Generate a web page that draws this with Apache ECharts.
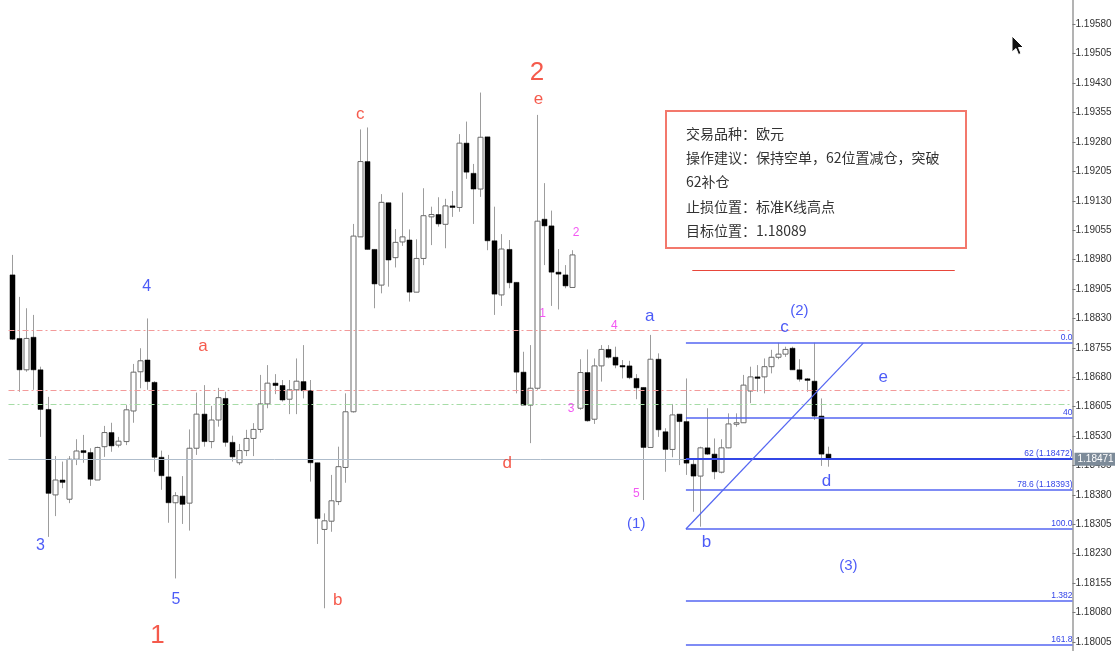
<!DOCTYPE html>
<html><head><meta charset="utf-8">
<script src="https://cdn.jsdelivr.net/npm/echarts@6/dist/echarts.min.js"></script>
<style>html,body{margin:0;padding:0;background:#fff}#main{width:1115px;height:651px}</style>
</head><body><div id="main"></div>
<script>
// ---- Candle data (EUR/USD) ----
const opens=[1.18941,1.18779,1.18699,1.18782,1.18699,1.18598,1.18380,1.18418,1.18369,1.18471,
1.18493,1.18488,1.18418,1.18503,1.18539,1.18507,1.18516,1.18594,1.18694,1.18724,
1.18667,1.18476,1.18426,1.18360,1.18377,1.18359,1.18499,1.18586,1.18516,1.18571,
1.18626,1.18514,1.18462,1.18493,1.18524,1.18547,1.18612,1.18665,1.18659,1.18624,
1.18648,1.18669,1.18646,1.18462,1.18292,1.18313,1.18363,1.18450,1.18592,1.19038,
1.19230,1.19006,1.18915,1.19125,1.18985,1.19025,1.19030,1.18897,1.18983,1.19089,
1.19095,1.19070,1.19117,1.19113,1.19277,1.19200,1.19160,1.19293,1.19028,1.18890,
1.19006,1.18922,1.18693,1.18609,1.18652,1.19083,1.19066,1.18948,1.18941,1.18909,
1.18601,1.18692,1.18573,1.18709,1.18751,1.18731,1.18710,1.18709,1.18677,1.18654,
1.18501,1.18726,1.18541,1.18496,1.18586,1.18567,1.18458,1.18428,1.18500,1.18484,
1.18438,1.18500,1.18561,1.18564,1.18645,1.18681,1.18681,1.18707,1.18731,1.18739,
1.18754,1.18699,1.18676,1.18670,1.18581,1.18484];
const closes=[1.18777,1.18699,1.18779,1.18699,1.18598,1.18384,1.18418,1.18412,1.18471,1.18492,
1.18488,1.18420,1.18501,1.18539,1.18505,1.18517,1.18597,1.18693,1.18722,1.18669,
1.18476,1.18429,1.18360,1.18378,1.18356,1.18499,1.18586,1.18516,1.18571,1.18628,
1.18514,1.18477,1.18493,1.18524,1.18547,1.18612,1.18665,1.18659,1.18622,1.18648,
1.18670,1.18646,1.18462,1.18320,1.18314,1.18365,1.18452,1.18592,1.19040,1.19230,
1.19006,1.18918,1.19126,1.18979,1.19024,1.19038,1.18897,1.18983,1.19092,1.19095,
1.19071,1.19117,1.19113,1.19277,1.19203,1.19160,1.19292,1.19028,1.18892,1.19007,
1.18921,1.18693,1.18609,1.18652,1.19078,1.19066,1.18948,1.18943,1.18913,1.18992,
1.18692,1.18569,1.18709,1.18751,1.18731,1.18711,1.18708,1.18679,1.18653,1.18501,
1.18726,1.18546,1.18496,1.18584,1.18567,1.18461,1.18428,1.18500,1.18484,1.18439,
1.18500,1.18561,1.18564,1.18660,1.18681,1.18678,1.18707,1.18731,1.18739,1.18751,
1.18699,1.18675,1.18672,1.18581,1.18484,1.18471];
const lows=[1.18775,1.18643,1.18694,1.18648,1.18528,1.18273,1.18326,1.18397,1.18359,1.18456,
1.18462,1.18403,1.18418,1.18477,1.18490,1.18501,1.18507,1.18564,1.18652,1.18648,
1.18439,1.18393,1.18309,1.18167,1.18306,1.18289,1.18482,1.18503,1.18499,1.18554,
1.18503,1.18465,1.18456,1.18479,1.18479,1.18539,1.18601,1.18637,1.18618,1.18586,
1.18586,1.18626,1.18414,1.18255,1.18091,1.18286,1.18354,1.18411,1.18590,1.19038,
1.19006,1.18856,1.18894,1.18911,1.18960,1.19015,1.18873,1.18897,1.18966,1.19017,
1.19064,1.19009,1.19089,1.19102,1.19186,1.19071,1.19140,1.19004,1.18839,1.18862,
1.18907,1.18639,1.18609,1.18512,1.18648,1.18966,1.18862,1.18853,1.18907,1.18909,
1.18597,1.18567,1.18561,1.18669,1.18728,1.18703,1.18677,1.18675,1.18624,1.18367,
1.18501,1.18528,1.18439,1.18476,1.18456,1.18431,1.18337,1.18299,1.18482,1.18420,
1.18435,1.18499,1.18554,1.18564,1.18614,1.18643,1.18639,1.18690,1.18726,1.18732,
1.18699,1.18669,1.18643,1.18571,1.18454,1.18452];
const highs=[1.18992,1.18885,1.18856,1.18839,1.18707,1.18630,1.18479,1.18465,1.18479,1.18522,
1.18533,1.18499,1.18503,1.18556,1.18564,1.18528,1.18609,1.18714,1.18754,1.18830,
1.18670,1.18493,1.18482,1.18387,1.18428,1.18547,1.18641,1.18660,1.18607,1.18653,
1.18643,1.18531,1.18510,1.18546,1.18563,1.18686,1.18711,1.18688,1.18673,1.18673,
1.18728,1.18762,1.18673,1.18462,1.18333,1.18431,1.18503,1.18639,1.19071,1.19312,
1.19317,1.19006,1.19147,1.19125,1.19058,1.19151,1.19057,1.19032,1.19162,1.19115,
1.19139,1.19135,1.19155,1.19300,1.19332,1.19224,1.19406,1.19293,1.19115,1.19045,
1.19030,1.18922,1.18745,1.18762,1.19349,1.19175,1.19105,1.19007,1.18966,1.19004,
1.18726,1.18751,1.18728,1.18762,1.18762,1.18758,1.18724,1.18722,1.18688,1.18654,
1.18788,1.18741,1.18550,1.18612,1.18586,1.18677,1.18469,1.18503,1.18601,1.18524,
1.18522,1.18588,1.18588,1.18686,1.18707,1.18711,1.18728,1.18750,1.18768,1.18758,
1.18758,1.18726,1.18678,1.18768,1.18626,1.18503];
const slotCount=150; // 116 bars + empty space on the right
const categories=Array.from({length:slotCount},(_,i)=>'K'+(i+1));
const yTicks=[1.18005,1.18080,1.18155,1.18230,1.18305,1.18380,1.18455,1.18530,1.18605,1.18680,1.18755,
1.18830,1.18905,1.18980,1.19055,1.19130,1.19205,1.19280,1.19355,1.19430,1.19505,1.19580];
const lastPrice=1.18471;
// horizontal reference levels
const redLevels=[1.18800,1.18646];
const greenLevels=[1.18611];
// Fibonacci levels
const fibLabels=['0.0','40','62 (1.18472)','78.6 (1.18393)','100.0','1.382','161.8'];
const fibPrices=[1.18767,1.18577,1.18472,1.18393,1.18293,1.18110,1.17997];
const fibStartBar=95;
const trendStart=[95,1.18293], trendEnd=[120,1.18767];
const redSeg=[[95.9,1.18953],[132.9,1.18953]];
// annotations [text, barPos, price, kind]
const annoTexts=['1','2','3','4','5','a','b','c','d','e','1','2','3','4','5','a','(1)','b','c','(2)','e','d','(3)'];
const annoBars=[20.5,74.0,4.0,19.0,23.1,26.9,45.9,49.1,69.8,74.2,74.8,79.5,78.8,84.9,88.0,89.9,88.0,97.9,108.9,111.0,122.8,114.8,117.9];
const annoPrices=[1.18020,1.19456,1.18250,1.18911,1.18112,1.18760,1.18112,1.19351,1.18461,1.19389,1.18843,1.19048,1.18601,1.18811,1.18384,1.18836,1.18306,1.18258,1.18807,1.18850,1.18681,1.18414,1.18199];
const annoKinds=['R','R','B','B','B','r','r','r','r','r','m','m','m','m','m','b','p','b','b','p','b','b','p'];
const infoLines=['交易品种：欧元','操作建议：保持空单，62位置减仓，突破','62补仓','止损位置：标准K线高点','目标位置：1.18089'];

const kindStyle={R:{color:'#f2311f',fontSize:26},r:{color:'#f2311f',fontSize:17},B:{color:'#1f32f5',fontSize:16},
  b:{color:'#1f32f5',fontSize:17},m:{color:'#f030f0',fontSize:12},p:{color:'#1f32f5',fontSize:15}};
const candleData=opens.map((o,i)=>[i,o,closes[i],lows[i],highs[i]]);
const annoData=annoTexts.map((t,i)=>({value:[annoBars[i],annoPrices[i]],
  label:{show:true,position:'inside',formatter:t,color:kindStyle[annoKinds[i]].color,fontSize:kindStyle[annoKinds[i]].fontSize,fontFamily:'Liberation Sans'}}));
const BLUE='#5466f2', BLUE_D='#3347e6', BLUE_T='#3445e8';
const X0=-0.5, X1=slotCount-0.5;
const ml=[];
redLevels.forEach(v=>ml.push([{coord:[X0,v],lineStyle:{color:'#f39a9a',width:1,type:[6,3,2,3]},label:{show:false}},{coord:[X1,v]}]));
greenLevels.forEach(v=>ml.push([{coord:[X0,v],lineStyle:{color:'#a6dca6',width:1,type:[6,3,2,3]},label:{show:false}},{coord:[X1,v]}]));
ml.push([{coord:[X0,lastPrice],lineStyle:{color:'#aebccb',width:1,type:'solid'},
  label:{show:true,position:'end',formatter:lastPrice.toFixed(5),backgroundColor:'#7d8b99',color:'#fff',fontSize:10,padding:[2,3,1,3],distance:2,fontFamily:'Liberation Sans'}},{coord:[X1,lastPrice]}]);
fibPrices.forEach((p,i)=>ml.push([{coord:[fibStartBar,p],lineStyle:{color:i===2?BLUE_D:BLUE,width:i===2?2:1.5,type:'solid'},
  label:{show:true,position:'insideEndTop',formatter:fibLabels[i],color:BLUE_T,fontSize:8.5,distance:[0,1],fontFamily:'Liberation Sans'}},{coord:[X1,p]}]));
ml.push([{coord:trendStart,lineStyle:{color:BLUE,width:1.2,type:'solid'},label:{show:false}},{coord:trendEnd}]);
ml.push([{coord:redSeg[0],lineStyle:{color:'#e8463a',width:1,type:'solid'},label:{show:false}},{coord:redSeg[1]}]);

const chart=echarts.init(document.getElementById('main'),null,{renderer:'canvas'});
chart.setOption({
  animation:false,
  backgroundColor:'#fff',
  grid:{left:8.5,right:42.5,top:0,bottom:0,containLabel:false},
  xAxis:[{type:'category',data:categories,show:false,boundaryGap:true},
         {type:'value',min:X0,max:X1,show:false}],
  yAxis:{type:'value',position:'right',min:1.17982,max:1.19642,scale:true,
    axisLine:{show:true,onZero:false,lineStyle:{color:'#b3b3b3',width:2}},
    axisTick:{show:true,length:3,lineStyle:{color:'#777'},customValues:yTicks},
    axisLabel:{show:true,customValues:yTicks,formatter:v=>v.toFixed(5),color:'#333',fontSize:10,margin:3,fontFamily:'Liberation Sans'},
    splitLine:{show:false}},
  series:[
    {type:'custom',name:'EURUSD',xAxisIndex:0,data:candleData,encode:{x:0,y:[1,2,3,4]},
     renderItem:function(params,api){
       const i=api.value(0),o=api.value(1),c=api.value(2),l=api.value(3),h=api.value(4);
       const pO=api.coord([i,o]),pC=api.coord([i,c]),pL=api.coord([i,l]),pH=api.coord([i,h]);
       const x=Math.round(pO[0])+0.5;
       const up=c>=o;
       const top=Math.min(pO[1],pC[1]),bot=Math.max(pO[1],pC[1]);
       const bh=Math.max(bot-top,1.5);
       return {type:'group',children:[
         {type:'line',shape:{x1:x,y1:pH[1],x2:x,y2:pL[1]},style:{stroke:'#9d9d9d',lineWidth:1}},
         {type:'rect',shape:{x:x-2.5,y:top,width:5,height:bh},
          style:up?{fill:'#fff',stroke:'#6b6b6b',lineWidth:1}:{fill:'#000',stroke:'#000',lineWidth:0.5}}
       ]};
     }},
    {type:'scatter',name:'notes',xAxisIndex:1,data:annoData,symbolSize:1,itemStyle:{color:'rgba(0,0,0,0)'},silent:true,z:5,
     markLine:{symbol:['none','none'],silent:true,animation:false,data:ml}}
  ],
  graphic:[
    {type:'rect',shape:{x:666,y:111,width:300,height:137},style:{fill:'#fff',stroke:'#f3786c',lineWidth:2},z:10},
    {type:'text',x:686,y:121,style:{text:infoLines.join('\n'),font:'14px "Noto Sans CJK SC"',lineHeight:24.4,fill:'#333',verticalAlign:'top'},z:11},
    {type:'polygon',shape:{points:[[1012,36],[1012,52],[1016,48.5],[1018.5,54.5],[1021,53.5],[1018.5,47.5],[1023.5,47.5]]},
     style:{fill:'#111',stroke:'#fff',lineWidth:1},z:12}
  ]
});
</script></body></html>
